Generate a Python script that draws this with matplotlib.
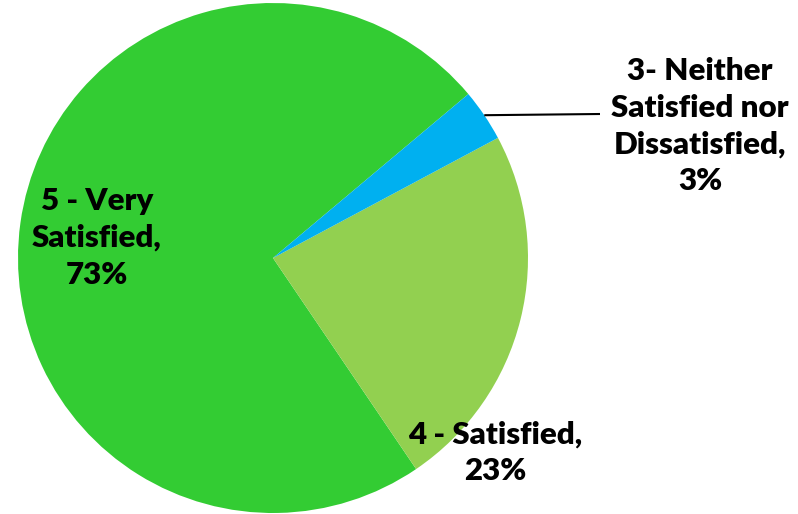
import numpy as np
import matplotlib
matplotlib.use("Agg")
import matplotlib.pyplot as plt

# Satisfaction survey breakdown
categories = ["5 - Very\nSatisfied", "4 - Satisfied", "3- Neither\nSatisfied nor\nDissatisfied"]
shares = [73.3, 23.3, 3.3]
colors = ["#33CC33", "#92D050", "#00B0F0"]

W, H = 798, 514
fig = plt.figure(figsize=(W / 100, H / 100), dpi=100)
ax = fig.add_axes([0, 0, 1, 1])

cx, cy, r = 273, H - 258, 255
wedges, _ = ax.pie(shares, colors=colors, startangle=40, counterclock=True,
                   center=(cx, cy), radius=r, frame=True,
                   wedgeprops=dict(linewidth=0))
ax.set_xlim(0, W)
ax.set_ylim(0, H)
ax.set_aspect("equal")
ax.axis("off")

font = dict(family=["Lato", "DejaVu Sans"], fontsize=22.5, fontweight="heavy",
            color="black", ha="center", va="center", multialignment="center",
            linespacing=1.38)

labels = [f"{c},\n{v:.0f}%" for c, v in zip(categories, shares)]
label_pos = [(97, 238), (495, 453), (700, 126)]
for lab, (px, py) in zip(labels, label_pos):
    ax.text(px, H - py, lab, **font)

# leader line from the small wedge to its label
w = wedges[2]
mid = np.deg2rad((w.theta1 + w.theta2) / 2)
x0, y0 = cx + r * np.cos(mid), cy + r * np.sin(mid)
ax.plot([x0, 600], [y0, H - 114], color="black", lw=1.5, solid_capstyle="butt")

fig.savefig("out.png", dpi=100)
